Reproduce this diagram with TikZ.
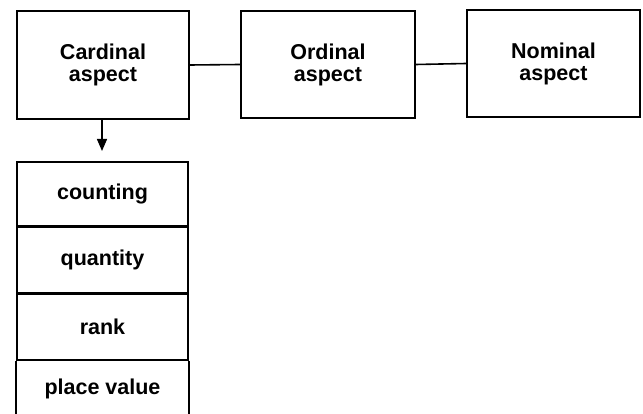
\documentclass[tikz,border=0pt]{standalone}
\usepackage{fontspec}
\setmainfont{Liberation Sans}
\usetikzlibrary{arrows.meta}
\begin{document}
\begin{tikzpicture}[x=1pt,y=-1pt,
  aspectbox/.style={draw,line width=1.6pt,align=center,font=\fontsize{21.5}{22}\selectfont\bfseries,inner sep=0pt},
  rowbox/.style={draw,line width=1.6pt,minimum width=171pt,inner sep=0pt,font=\fontsize{21.5}{22}\selectfont\bfseries},
  conn/.style={line width=1.6pt}]
\useasboundingbox (0,0) rectangle (643,414);
\node[aspectbox,minimum width=172pt,minimum height=108pt] (card) at (103,65) {Cardinal\\aspect};
\node[aspectbox,minimum width=174pt,minimum height=107pt] (ord) at (328,64.5) {Ordinal\\aspect};
\node[aspectbox,minimum width=173pt,minimum height=107pt] (nom) at (553.5,63.5) {Nominal\\aspect};
\draw[conn] (card.east) -- (ord.west);
\draw[conn] (ord.east) -- (nom.west);
\node[rowbox,minimum height=64pt] (r1) at (102.5,194) {counting};
\node[rowbox,minimum height=65pt,anchor=north] (r2) at (r1.south) {quantity};
\node[rowbox,minimum height=66pt,anchor=north] (r3) at (r2.south) {rank};
\node[rowbox,draw=none,minimum height=54pt,anchor=north] (r4) at (r3.south) {place value};
\coordinate (bl) at (r4.north west |- 0,416);
\coordinate (br) at (r4.north east |- 0,416);
\draw[conn] (bl) -- (r4.north west);
\draw[conn] (br) -- (r4.north east);
\coordinate (tip) at (102,151);
\draw[line width=1.4pt,-{Triangle[length=12pt,width=10pt]}] (card.south -| tip) -- (tip);
\end{tikzpicture}
\end{document}
